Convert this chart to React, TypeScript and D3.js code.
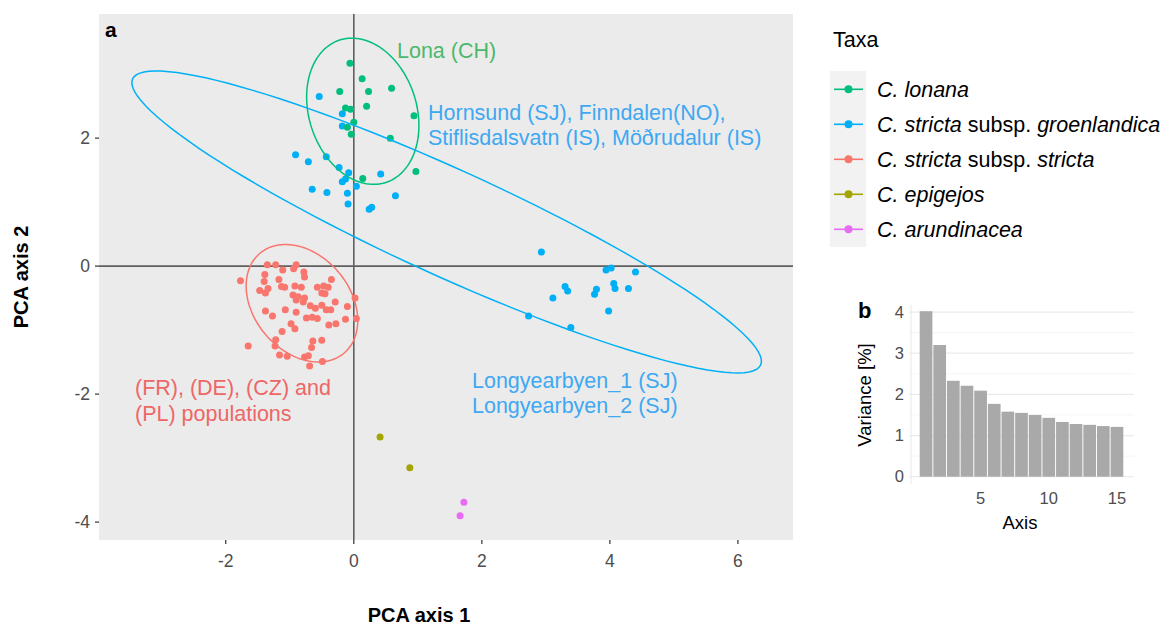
import React from "react";
import * as d3 from "d3";

// ---------- data ----------
const taxa = ["lonana", "groenlandica", "stricta", "epigejos", "arundinacea"];
const taxaColors = ["#00BF7D", "#00B0F6", "#F8766D", "#A3A500", "#E76BF3"];

const lonanaPts: [number, number][] = [
  [-0.06, 3.17], [0.13, 2.93], [-0.22, 2.73], [0.23, 2.73], [0.59, 2.78],
  [-0.13, 2.47], [-0.05, 2.45], [0.2, 2.5], [0.94, 2.35], [0.0, 2.25],
  [-0.1, 2.17], [-0.04, 2.06], [0.57, 2.0], [0.14, 1.37], [0.97, 1.48],
];

const groenlandicaPts: [number, number][] = [
  [-0.54, 2.65], [-0.18, 2.38], [-0.18, 2.19], [-0.91, 1.74], [-0.71, 1.63],
  [-0.43, 1.71], [-0.23, 1.54], [-0.08, 1.46], [-0.13, 1.36], [-0.18, 1.32],
  [0.04, 1.25], [0.42, 1.44], [-0.65, 1.2], [-0.42, 1.15], [-0.1, 1.14],
  [0.65, 1.1], [-0.09, 0.97], [0.24, 0.89], [0.28, 0.92],
  [2.93, 0.22], [3.94, -0.06], [4.02, -0.03], [4.4, -0.09], [3.3, -0.32],
  [3.34, -0.39], [3.11, -0.5], [3.79, -0.36], [3.76, -0.44], [4.06, -0.27],
  [4.08, -0.35], [4.29, -0.35], [3.98, -0.7], [2.73, -0.78], [3.39, -0.96],
];

const strictaPts: [number, number][] = [
  [-1.35, 0.02], [-1.22, 0.02], [-0.9, 0.02], [-0.94, -0.04], [-1.11, -0.06],
  [-1.77, -0.23], [-1.39, -0.13], [-0.78, -0.09], [-0.77, -0.17], [-0.35, -0.21],
  [-1.17, -0.21], [-1.4, -0.24], [-1.34, -0.35], [-1.47, -0.38], [-1.38, -0.42],
  [-1.13, -0.32], [-1.08, -0.33], [-0.92, -0.31], [-0.82, -0.33], [-0.57, -0.33],
  [-0.47, -0.31], [-0.4, -0.33], [-0.45, -0.43], [-0.5, -0.42], [-0.95, -0.45],
  [-0.87, -0.48], [-0.77, -0.5], [-0.9, -0.53], [-0.79, -0.56], [-0.68, -0.62],
  [-0.6, -0.66], [-0.5, -0.61], [-0.43, -0.68], [-0.36, -0.68], [-0.29, -0.56],
  [-0.1, -0.63], [0.02, -0.5], [-1.38, -0.7], [-1.27, -0.78], [-1.07, -0.68],
  [-0.9, -0.72], [-0.74, -0.81], [-0.65, -0.8], [-0.57, -0.82], [-0.13, -0.83],
  [0.04, -0.82], [-0.39, -0.92], [-0.28, -0.9], [-0.98, -0.9], [-0.92, -0.98],
  [-1.12, -1.02], [-1.65, -1.25], [-1.22, -1.15], [-1.23, -1.25], [-1.16, -1.39],
  [-1.04, -1.41], [-0.64, -1.17], [-0.66, -1.27], [-0.5, -1.16], [-0.77, -1.42],
  [-0.71, -1.4], [-0.69, -1.56], [-0.49, -1.49],
];

const epigejosPts: [number, number][] = [[0.41, -2.67], [0.875, -3.15]];
const arundinaceaPts: [number, number][] = [[1.72, -3.69], [1.66, -3.9]];

// ellipses (centre x, centre y, semi-major, semi-minor, angle in degrees), data units
const ellipseLonana = [0.14, 2.42, 1.17, 0.84, 108];
const ellipseGroenlandica = [1.45, 0.69, 5.39, 0.83, -24.5];
const ellipseStricta = [-0.81, -0.58, 1.02, 0.75, 130];

const xTicks = [-2, 0, 2, 4, 6];
const yTicks = [-4, -2, 0, 2];

// scree inset
const screeVariance = [4.02, 3.2, 2.33, 2.21, 2.09, 1.77, 1.58, 1.55, 1.5, 1.43, 1.33, 1.28, 1.26, 1.23, 1.21];
const screeXTicks = [5, 10, 15];
const screeYTicks = [0, 1, 2, 3, 4];
const screeYMinor = [0.5, 1.5, 2.5, 3.5];

const FONT = "'Liberation Sans', Arial, Helvetica, sans-serif";

export default function App() {
  const x = d3.scaleLinear().domain([-3.98, 6.86]).range([99, 793]);
  const y = d3.scaleLinear().domain([-4.28, 3.94]).range([540, 14]);

  const ellipsePath = (e: number[]) => {
    const [cx, cy, a, b, ang] = e;
    const t = (ang * Math.PI) / 180;
    const pts = d3.range(0, 360, 3).map((deg) => {
      const p = (deg * Math.PI) / 180;
      const u = a * Math.cos(p);
      const v = b * Math.sin(p);
      return [cx + u * Math.cos(t) - v * Math.sin(t), cy + u * Math.sin(t) + v * Math.cos(t)] as [number, number];
    });
    return d3
      .line<[number, number]>()
      .x((d) => x(d[0]))
      .y((d) => y(d[1]))
      .curve(d3.curveLinearClosed)(pts) as string;
  };

  const series: [number, number][][] = [groenlandicaPts, lonanaPts, strictaPts, epigejosPts, arundinaceaPts];
  const seriesColor = [taxaColors[1], taxaColors[0], taxaColors[2], taxaColors[3], taxaColors[4]];

  // inset scales
  const bx = d3.scaleLinear().domain([-0.25, 16.25]).range([909, 1134]);
  const by = d3.scaleLinear().domain([0, 4.22]).range([476.7, 303]);

  const legendItems = [
    [{ t: "C. lonana", i: true }],
    [{ t: "C. stricta", i: true }, { t: " subsp. ", i: false }, { t: "groenlandica", i: true }],
    [{ t: "C. stricta", i: true }, { t: " subsp. ", i: false }, { t: "stricta", i: true }],
    [{ t: "C. epigejos", i: true }],
    [{ t: "C. arundinacea", i: true }],
  ];

  return (
    <svg width={1167} height={625} style={{ position: "absolute", left: 0, top: 0, background: "#fff" }} fontFamily={FONT}>
      {/* panel a */}
      <rect x={99} y={14} width={694} height={526} fill="#EBEBEB" />
      <line x1={x(0)} x2={x(0)} y1={14} y2={540} stroke="#5F5F5F" strokeWidth={1.6} />
      <line x1={99} x2={793} y1={y(0)} y2={y(0)} stroke="#5F5F5F" strokeWidth={1.6} />

      {series.map((pts, si) =>
        pts.map((d, i) => <circle key={`p${si}-${i}`} cx={x(d[0])} cy={y(d[1])} r={3.5} fill={seriesColor[si]} />)
      )}

      <path d={ellipsePath(ellipseLonana)} fill="none" stroke={taxaColors[0]} strokeWidth={1.5} />
      <path d={ellipsePath(ellipseGroenlandica)} fill="none" stroke={taxaColors[1]} strokeWidth={1.5} />
      <path d={ellipsePath(ellipseStricta)} fill="none" stroke={taxaColors[2]} strokeWidth={1.5} />

      {/* annotations */}
      <g fontSize={21.5}>
        <text x={397} y={58} fill="#4DB86C">Lona (CH)</text>
        <text x={428} y={120} fill="#3FA8F2">Hornsund (SJ), Finndalen(NO),</text>
        <text x={428} y={145} fill="#3FA8F2">Stiflisdalsvatn (IS), Möðrudalur (IS)</text>
        <text x={135} y={395} fill="#EE6666">(FR), (DE), (CZ) and</text>
        <text x={135} y={420.5} fill="#EE6666">(PL) populations</text>
        <text x={472} y={388} fill="#3FA8F2">Longyearbyen_1 (SJ)</text>
        <text x={472} y={413} fill="#3FA8F2">Longyearbyen_2 (SJ)</text>
      </g>

      <text x={105} y={37} fontSize={21} fontWeight="bold" fill="#000">a</text>

      {/* axes */}
      {xTicks.map((t) => (
        <g key={`xt${t}`}>
          <line x1={x(t)} x2={x(t)} y1={540} y2={544} stroke="#333" strokeWidth={1.2} />
          <text x={x(t)} y={567} textAnchor="middle" fontSize={17.5} fill="#4D4D4D">{t}</text>
        </g>
      ))}
      {yTicks.map((t) => (
        <g key={`yt${t}`}>
          <line x1={95} x2={99} y1={y(t)} y2={y(t)} stroke="#333" strokeWidth={1.2} />
          <text x={90} y={y(t)} dy="0.35em" textAnchor="end" fontSize={17.5} fill="#4D4D4D">{t}</text>
        </g>
      ))}
      <text x={419} y={622} textAnchor="middle" fontSize={20} fontWeight="bold">PCA axis 1</text>
      <text transform="translate(28,277) rotate(-90)" textAnchor="middle" fontSize={20} fontWeight="bold">PCA axis 2</text>

      {/* legend */}
      <text x={833} y={47} fontSize={21.5}>Taxa</text>
      <rect x={830} y={71} width={36} height={176} fill="#F2F2F2" />
      {legendItems.map((parts, i) => {
        const cy = 89.3 + i * 35;
        return (
          <g key={`lg${i}`}>
            <line x1={834} x2={863} y1={cy} y2={cy} stroke={taxaColors[i]} strokeWidth={1.6} />
            <circle cx={848.5} cy={cy} r={4} fill={taxaColors[i]} />
            <text x={877} y={cy} dy="0.35em" fontSize={21.5}>
              {parts.map((p, j) => (
                <tspan key={j} fontStyle={p.i ? "italic" : "normal"}>{p.t}</tspan>
              ))}
            </text>
          </g>
        );
      })}

      {/* inset b */}
      {screeYMinor.map((t) => (
        <line key={`ym${t}`} x1={909} x2={1134} y1={by(t)} y2={by(t)} stroke="#F2F2F2" strokeWidth={0.8} />
      ))}
      {screeYTicks.map((t) => (
        <line key={`yg${t}`} x1={909} x2={1134} y1={by(t)} y2={by(t)} stroke="#EBEBEB" strokeWidth={1.2} />
      ))}
      <line x1={911} x2={911} y1={305} y2={484} stroke="#EBEBEB" strokeWidth={1.2} />
      {screeVariance.map((v, i) => (
        <rect key={`b${i}`} x={bx(i + 1 - 0.465)} width={bx(i + 1 + 0.465) - bx(i + 1 - 0.465)} y={by(v)} height={by(0) - by(v)} fill="#A9A9A9" />
      ))}
      {screeYTicks.map((t) => (
        <text key={`byl${t}`} x={904} y={by(t)} dy="0.35em" textAnchor="end" fontSize={16.5} fill="#4D4D4D">{t}</text>
      ))}
      {screeXTicks.map((t) => (
        <text key={`bxl${t}`} x={bx(t)} y={504} textAnchor="middle" fontSize={16.5} fill="#4D4D4D">{t}</text>
      ))}
      <text x={1020} y={529} textAnchor="middle" fontSize={18.5}>Axis</text>
      <text transform="translate(871,395) rotate(-90)" textAnchor="middle" fontSize={18.5}>Variance [%]</text>
      <text x={858} y={318} fontSize={22} fontWeight="bold">b</text>
    </svg>
  );
}
